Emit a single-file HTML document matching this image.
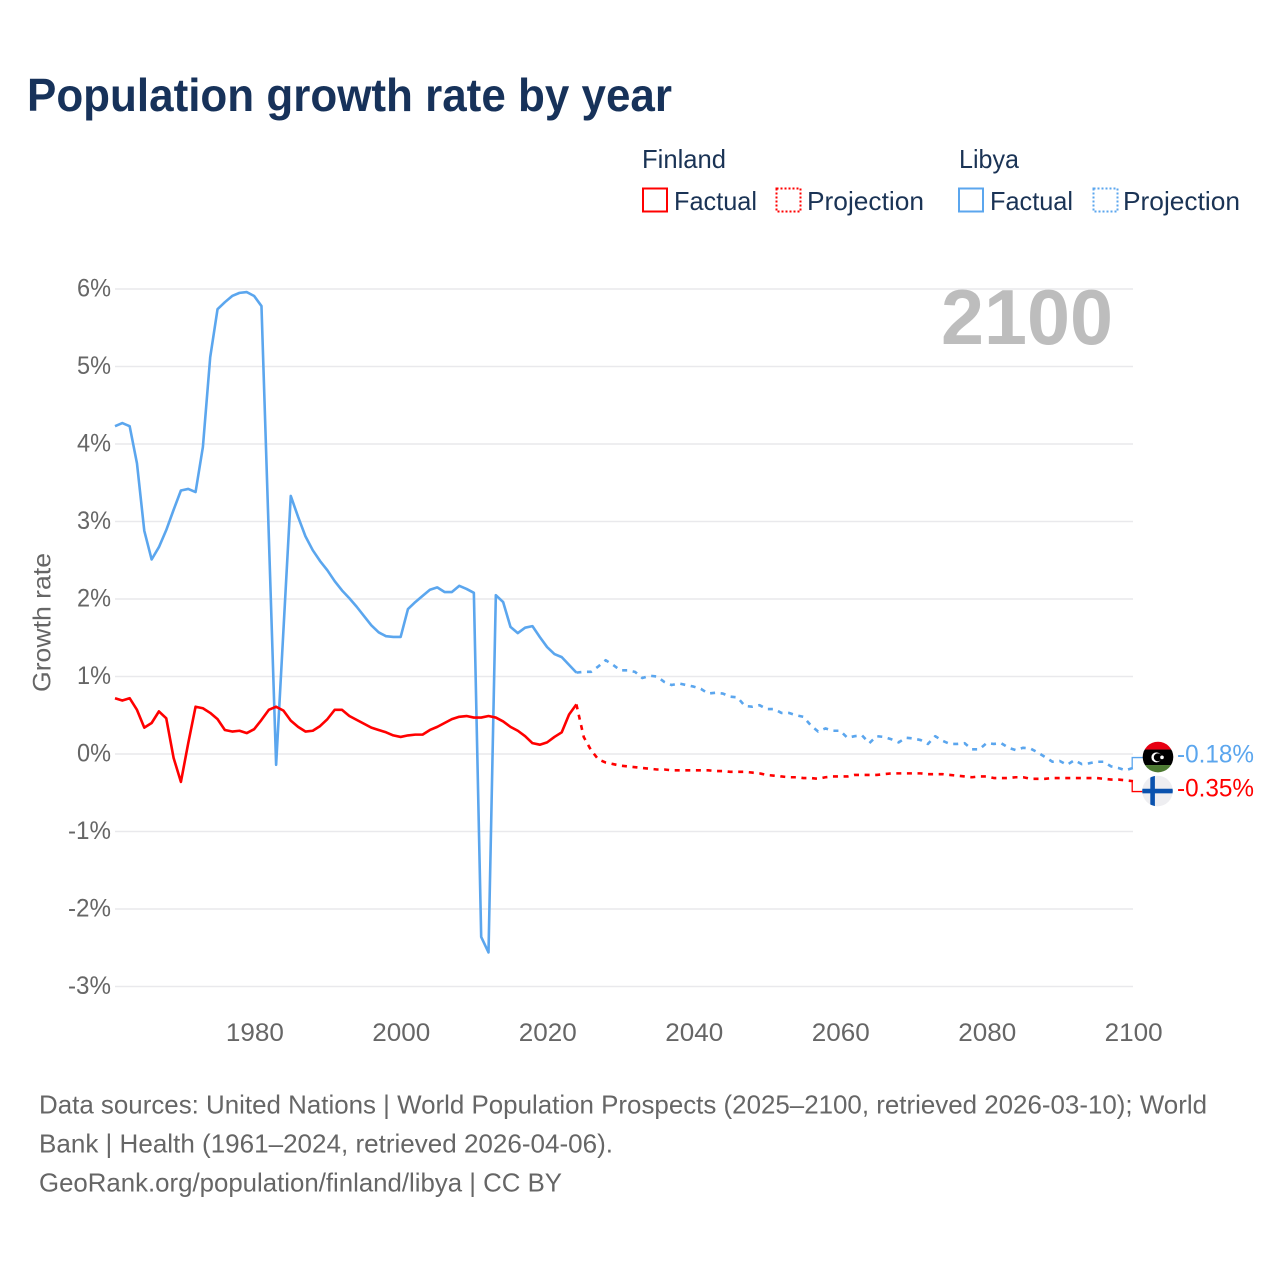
<!DOCTYPE html>
<html lang="en">
<head>
<meta charset="utf-8">
<title>Population growth rate by year</title>
<style>
html,body{margin:0;padding:0;background:#fff;width:1280px;height:1280px;overflow:hidden}
svg{display:block;font-family:"Liberation Sans",sans-serif}
.tick{font-size:25px;fill:#666}
.leg{font-size:26px;fill:#1a3355}
.src{font-size:26px;fill:#666}
</style>
</head>
<body>
<svg id="chart" xmlns="http://www.w3.org/2000/svg" width="1280" height="1280" viewBox="0 0 1280 1280">
  <rect x="0" y="0" width="1280" height="1280" fill="#ffffff"/>
  <text x="27" y="111" font-size="46" font-weight="700" fill="#17325a" textLength="645" lengthAdjust="spacingAndGlyphs">Population growth rate by year</text>

  <g>
    <text class="leg" x="642" y="168" textLength="84" lengthAdjust="spacingAndGlyphs">Finland</text>
    <text class="leg" x="959" y="168" textLength="60" lengthAdjust="spacingAndGlyphs">Libya</text>
    <rect x="643" y="188.5" width="24" height="23" fill="none" stroke="#ff0000" stroke-width="2"/>
    <text class="leg" x="674" y="210" textLength="83" lengthAdjust="spacingAndGlyphs">Factual</text>
    <rect x="776.5" y="188.5" width="24" height="23" fill="none" stroke="#ff0000" stroke-width="2" stroke-dasharray="2 2"/>
    <text class="leg" x="807" y="210" textLength="117" lengthAdjust="spacingAndGlyphs">Projection</text>
    <rect x="959" y="188.5" width="24" height="23" fill="none" stroke="#5ba6ee" stroke-width="2"/>
    <text class="leg" x="990" y="210" textLength="83" lengthAdjust="spacingAndGlyphs">Factual</text>
    <rect x="1093.5" y="188.5" width="24" height="23" fill="none" stroke="#5ba6ee" stroke-width="2" stroke-dasharray="2 2"/>
    <text class="leg" x="1123" y="210" textLength="117" lengthAdjust="spacingAndGlyphs">Projection</text>
  </g>

  <g id="grid"></g>
  <g id="yticks"></g>
  <g id="xticks"></g>
  <text class="tick" transform="translate(50.5 622.5) rotate(-90)" text-anchor="middle" textLength="139" lengthAdjust="spacingAndGlyphs">Growth rate</text>
  <text x="1113" y="344" text-anchor="end" font-size="78" font-weight="700" fill="#bdbdbd" textLength="172" lengthAdjust="spacingAndGlyphs">2100</text>

  <g id="series"></g>

  <g id="flag-libya">
    <clipPath id="clip-libya"><circle cx="0" cy="0" r="15.3"/></clipPath>
    <g clip-path="url(#clip-libya)">
      <rect x="-16" y="-16" width="32" height="8.5" fill="#e70013"/>
      <rect x="-16" y="-7.5" width="32" height="15.5" fill="#000000"/>
      <rect x="-16" y="8" width="32" height="8" fill="#4d7a32"/>
      <circle cx="-1.6" cy="0.3" r="5" fill="#ffffff"/>
      <circle cx="-0.2" cy="0.3" r="4" fill="#000000"/>
      <circle cx="4" cy="0.3" r="1.8" fill="#ffffff"/>
    </g>
  </g>
  <g id="flag-finland">
    <clipPath id="clip-finland"><circle cx="0" cy="0" r="15.3"/></clipPath>
    <g clip-path="url(#clip-finland)">
      <rect x="-16" y="-16" width="32" height="32" fill="#eeeef1"/>
      <rect x="-7.2" y="-16" width="4.6" height="32" fill="#0a52ae"/>
      <rect x="-16" y="-2.3" width="32" height="4.6" fill="#0a52ae"/>
    </g>
  </g>
  <text id="value-libya" x="1177" font-size="25" fill="#5ba6ee" textLength="77" lengthAdjust="spacingAndGlyphs"></text>
  <text id="value-finland" x="1177" font-size="25" fill="#ff0000" textLength="77" lengthAdjust="spacingAndGlyphs"></text>

  <g>
    <text class="src" x="39" y="1113.5" textLength="1168" lengthAdjust="spacingAndGlyphs">Data sources: United Nations | World Population Prospects (2025–2100, retrieved 2026-03-10); World</text>
    <text class="src" x="39" y="1152.5" textLength="574" lengthAdjust="spacingAndGlyphs">Bank | Health (1961–2024, retrieved 2026-04-06).</text>
    <text class="src" x="39" y="1191.5" textLength="523" lengthAdjust="spacingAndGlyphs">GeoRank.org/population/finland/libya | CC BY</text>
  </g>
</svg>

<script>
var yTickValues = [6, 5, 4, 3, 2, 1, 0, -1, -2, -3];
var xTickYears = [1980, 2000, 2020, 2040, 2060, 2080, 2100];
var factualStartYear = 1961;
var projectionStartYear = 2024;

var libyaFactual = [
  4.23, 4.27, 4.23, 3.75, 2.88, 2.51, 2.67, 2.89, 3.15,
  3.40, 3.42, 3.38, 3.96, 5.12, 5.74, 5.83, 5.91, 5.95, 5.96,
  5.91, 5.78, 2.82, -0.14, 1.60, 3.33, 3.06, 2.81, 2.63, 2.49,
  2.37, 2.23, 2.11, 2.01, 1.90, 1.78, 1.66, 1.57, 1.52, 1.51,
  1.51, 1.87, 1.96, 2.04, 2.12, 2.15, 2.09, 2.09, 2.17, 2.13,
  2.08, -2.36, -2.56, 2.05, 1.96, 1.64, 1.56, 1.63, 1.65, 1.51,
  1.38, 1.29, 1.25, 1.15, 1.05
];
var libyaProjection = [
  1.05, 1.06, 1.06, 1.13, 1.21, 1.15,
  1.08, 1.08, 1.06, 0.98, 1.01, 1.00, 0.93, 0.89, 0.91, 0.89,
  0.87, 0.84, 0.78, 0.79, 0.78, 0.74, 0.73, 0.62, 0.61, 0.63,
  0.58, 0.58, 0.53, 0.53, 0.50, 0.48, 0.37, 0.29, 0.33, 0.30,
  0.30, 0.21, 0.23, 0.24, 0.14, 0.23, 0.22, 0.19, 0.15, 0.21,
  0.20, 0.18, 0.13, 0.23, 0.17, 0.13, 0.13, 0.14, 0.06, 0.06,
  0.14, 0.13, 0.14, 0.08, 0.05, 0.08, 0.07, 0.02, -0.04, -0.10,
  -0.09, -0.14, -0.08, -0.13, -0.12, -0.10, -0.10, -0.16, -0.18, -0.21,
  -0.18
];
var finlandFactual = [
  0.72, 0.69, 0.72, 0.57, 0.34, 0.40, 0.55, 0.46, -0.05,
  -0.36, 0.14, 0.61, 0.59, 0.53, 0.45, 0.31, 0.29, 0.30, 0.27,
  0.32, 0.44, 0.57, 0.61, 0.56, 0.43, 0.35, 0.29, 0.30, 0.36,
  0.45, 0.57, 0.57, 0.49, 0.44, 0.39, 0.34, 0.31, 0.28, 0.24,
  0.22, 0.24, 0.25, 0.25, 0.31, 0.35, 0.40, 0.45, 0.48, 0.49,
  0.47, 0.47, 0.49, 0.47, 0.42, 0.35, 0.30, 0.23, 0.14, 0.12,
  0.15, 0.22, 0.28, 0.51, 0.64
];
var finlandProjection = [
  0.64, 0.22, 0.05, -0.07, -0.11, -0.13,
  -0.15, -0.16, -0.17, -0.18, -0.19, -0.20, -0.20, -0.21, -0.21, -0.21,
  -0.21, -0.21, -0.21, -0.22, -0.22, -0.23, -0.23, -0.23, -0.24, -0.25,
  -0.27, -0.28, -0.29, -0.30, -0.30, -0.31, -0.31, -0.32, -0.30, -0.29,
  -0.29, -0.29, -0.27, -0.27, -0.27, -0.27, -0.26, -0.25, -0.25, -0.25,
  -0.25, -0.25, -0.26, -0.26, -0.26, -0.27, -0.28, -0.29, -0.30, -0.29,
  -0.29, -0.31, -0.31, -0.31, -0.30, -0.30, -0.32, -0.32, -0.32, -0.31,
  -0.31, -0.31, -0.31, -0.31, -0.31, -0.31, -0.32, -0.33, -0.33, -0.34,
  -0.35
];

var NS = 'http://www.w3.org/2000/svg';
function sx(year) { return 115 + (year - 1961) * (1133 - 115) / 139; }
function sy(v) { return 754 - v * 77.5; }
function make(parentId, tag) {
  var el = document.createElementNS(NS, tag);
  document.getElementById(parentId).appendChild(el);
  return el;
}
function pathFrom(values, startYear) {
  var d = '';
  for (var i = 0; i < values.length; i++) {
    d += (i ? 'L' : 'M') + sx(startYear + i).toFixed(2) + ' ' + sy(values[i]).toFixed(2);
  }
  return d;
}

yTickValues.forEach(function (v) {
  var line = make('grid', 'line');
  
  
  line.setAttribute('x1', 115);
  line.setAttribute('x2', 1133);
  line.setAttribute('y1', sy(v));
  line.setAttribute('y2', sy(v));
  line.setAttribute('stroke', '#e9e9ec');
  line.setAttribute('stroke-width', '1.5');
  var label = make('yticks', 'text');
  
  
  label.setAttribute('class', 'tick');
  label.setAttribute('x', 111);
  label.setAttribute('y', sy(v) + 7.5);
  label.setAttribute('text-anchor', 'end');
  label.setAttribute('textLength', v < 0 ? 43 : 34);
  label.setAttribute('lengthAdjust', 'spacingAndGlyphs');
  label.textContent = v + '%';
});

xTickYears.forEach(function (year) {
  var label = make('xticks', 'text');
  
  
  label.setAttribute('class', 'tick');
  label.setAttribute('x', sx(year) + 0.7);
  label.setAttribute('y', 1041);
  label.setAttribute('text-anchor', 'middle');
  label.setAttribute('textLength', 58);
  label.setAttribute('lengthAdjust', 'spacingAndGlyphs');
  label.textContent = year;
});

function drawSeries(name, values, startYear, color, dashed) {
  var p = make('series', 'path');
  
  
  p.setAttribute('d', pathFrom(values, startYear));
  p.setAttribute('fill', 'none');
  p.setAttribute('stroke', color);
  p.setAttribute('stroke-width', '2.6');
  p.setAttribute('stroke-linejoin', 'round');
  if (dashed) {
    p.setAttribute('stroke-dasharray', '5 5.6');
  }
}
drawSeries('line-libya-factual', libyaFactual, factualStartYear, '#5ba6ee', false);
drawSeries('line-libya-projection', libyaProjection, projectionStartYear, '#5ba6ee', true);
drawSeries('line-finland-factual', finlandFactual, factualStartYear, '#ff0000', false);
drawSeries('line-finland-projection', finlandProjection, projectionStartYear, '#ff0000', true);

var libyaLast = libyaProjection[libyaProjection.length - 1];
var finlandLast = finlandProjection[finlandProjection.length - 1];
var endX = sx(2100);
var midY = (sy(libyaLast) + sy(finlandLast)) / 2;
var gap = 17;
var libyaY = Math.min(sy(libyaLast), midY - gap);
var finlandY = Math.max(sy(finlandLast), midY + gap);

function drawConnector(name, fromY, toY, color) {
  var c = make('series', 'path');
  
  
  c.setAttribute('d', 'M' + (endX - 0.8) + ' ' + fromY + 'V' + toY + 'H1144');
  c.setAttribute('fill', 'none');
  c.setAttribute('stroke', color);
  c.setAttribute('stroke-width', '1.3');
}
drawConnector('connector-libya', sy(libyaLast), libyaY, '#5ba6ee');
drawConnector('connector-finland', sy(finlandLast), finlandY, '#ff0000');

document.getElementById('flag-libya').setAttribute('transform', 'translate(1158 ' + (libyaY - 0.5) + ')');
document.getElementById('flag-finland').setAttribute('transform', 'translate(1157.5 ' + (finlandY - 0.5) + ')');
var valueLibya = document.getElementById('value-libya');
valueLibya.setAttribute('y', libyaY + 5);
valueLibya.textContent = libyaLast.toFixed(2) + '%';
var valueFinland = document.getElementById('value-finland');
valueFinland.setAttribute('y', finlandY + 5);
valueFinland.textContent = finlandLast.toFixed(2) + '%';
</script>
</body>
</html>
